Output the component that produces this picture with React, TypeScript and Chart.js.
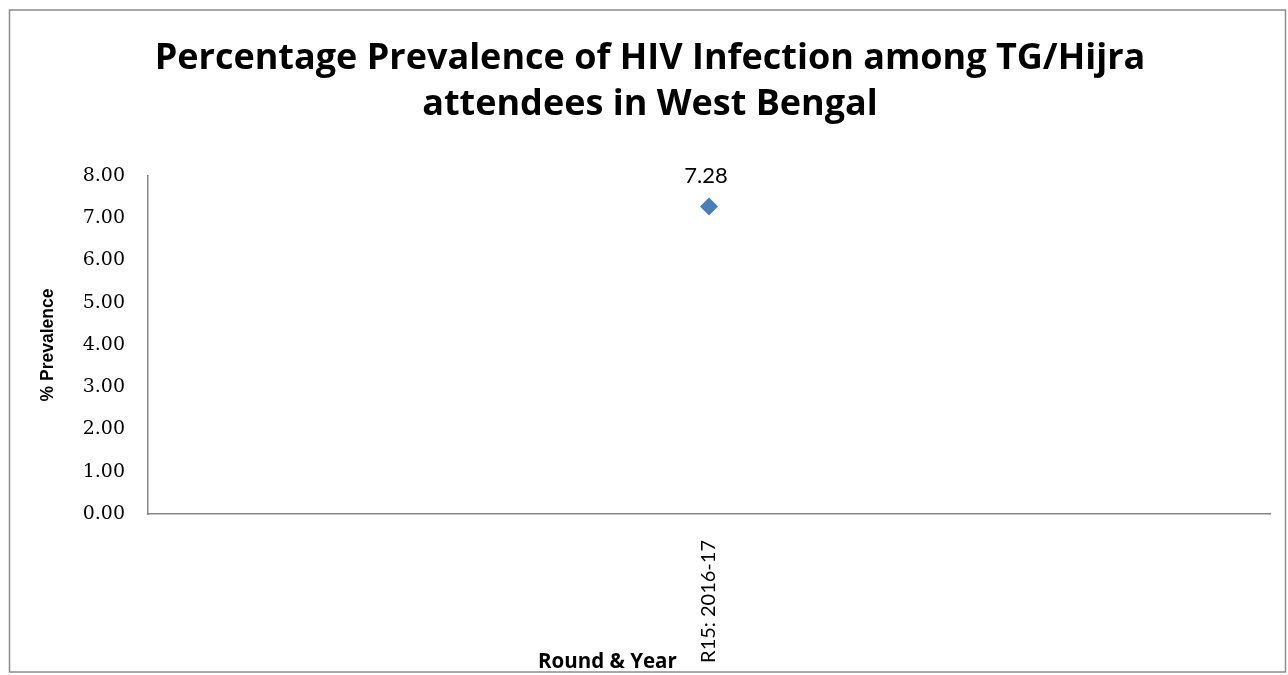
import React, { useEffect, useRef } from "react";
import { Chart, registerables } from "chart.js";

Chart.register(...registerables);

const TITLE_LINES = [
  "Percentage Prevalence of HIV Infection among TG/Hijra",
  "attendees in West Bengal",
];
const CATEGORIES = ["R15: 2016-17"];
const PREVALENCE = [7.28];
const Y_MIN = 0;
const Y_MAX = 8;
const Y_STEP = 1;
const X_TITLE = "Round & Year";
const Y_TITLE = "% Prevalence";

const AXIS_COLOR = "#868686";
const POINT_COLOR = "#4A7EBB";

const framePlugin = {
  id: "frame",
  beforeDraw(chart: any) {
    const ctx = chart.ctx;
    ctx.save();
    ctx.fillStyle = "#ffffff";
    ctx.fillRect(0, 0, chart.width, chart.height);
    ctx.strokeStyle = "#8c8c8c";
    ctx.lineWidth = 1.5;
    ctx.strokeRect(9.5, 10, 1276, 662);
    ctx.restore();
  },
};

const textPlugin = {
  id: "texts",
  afterDraw(chart: any) {
    const ctx = chart.ctx;
    ctx.save();
    ctx.fillStyle = "#000000";
    ctx.textAlign = "center";
    ctx.textBaseline = "alphabetic";
    ctx.font = "bold 36px 'Open Sans'";
    ctx.fillText(TITLE_LINES[0], 650, 69);
    ctx.fillText(TITLE_LINES[1], 650, 115);

    const area = chart.chartArea;
    ctx.font = "bold 20.5px 'Open Sans'";
    ctx.textAlign = "left";
    ctx.fillText(X_TITLE, area.left + 390, 668);

    const meta = chart.getDatasetMeta(0);
    ctx.font = "22px Lato";
    ctx.textAlign = "center";
    ctx.textBaseline = "middle";
    meta.data.forEach((el: any, i: number) => {
      const v = chart.data.datasets[0].data[i] as number;
      ctx.fillText(v.toFixed(2), el.x - 3, el.y - 31);
    });
    ctx.restore();
  },
};

export default function App() {
  const ref = useRef<HTMLCanvasElement | null>(null);
  useEffect(() => {
    if (!ref.current) return;
    const chart = new Chart(ref.current, {
      type: "line",
      data: {
        labels: CATEGORIES,
        datasets: [
          {
            label: "Prevalence",
            data: PREVALENCE,
            showLine: false,
            pointStyle: "rectRot",
            pointRadius: 9,
            backgroundColor: POINT_COLOR,
            borderColor: POINT_COLOR,
            borderWidth: 0,
          },
        ],
      },
      options: {
        animation: false,
        responsive: false,
        devicePixelRatio: 1,
        layout: { padding: { left: 0, top: 176, right: 18, bottom: 0 } },
        plugins: {
          legend: { display: false },
          title: { display: false },
          tooltip: { enabled: false },
        },
        scales: {
          x: {
            type: "category",
            offset: true,
            grid: { display: false, drawTicks: false },
            border: { display: true, color: AXIS_COLOR, width: 1.5 },
            ticks: {
              minRotation: 90,
              maxRotation: 90,
              padding: 26,
              color: "#000000",
              font: { family: "Lato", size: 20 },
            },
            afterFit: (s: any) => {
              s.height = 161;
            },
          },
          y: {
            min: Y_MIN,
            max: Y_MAX,
            grid: { display: false, drawTicks: false },
            border: { display: true, color: AXIS_COLOR, width: 1.5 },
            ticks: {
              stepSize: Y_STEP,
              padding: 23,
              color: "#000000",
              font: { family: "DejaVu Serif", size: 19 },
              callback: (v: any) => Number(v).toFixed(2),
            },
            title: {
              display: true,
              text: Y_TITLE,
              color: "#000000",
              font: { family: "Liberation Sans", size: 17.5, weight: "bold" },
              padding: { top: 38, bottom: 0 },
            },
            afterFit: (s: any) => {
              s.width = 148;
            },
          },
        },
      },
      plugins: [framePlugin, textPlugin],
    });
    return () => chart.destroy();
  }, []);
  return (
    <div style={{ position: "fixed", left: 0, top: 0, width: 1288, height: 675 }}>
      <canvas ref={ref} width={1288} height={675} style={{ width: 1288, height: 675 }} />
    </div>
  );
}
